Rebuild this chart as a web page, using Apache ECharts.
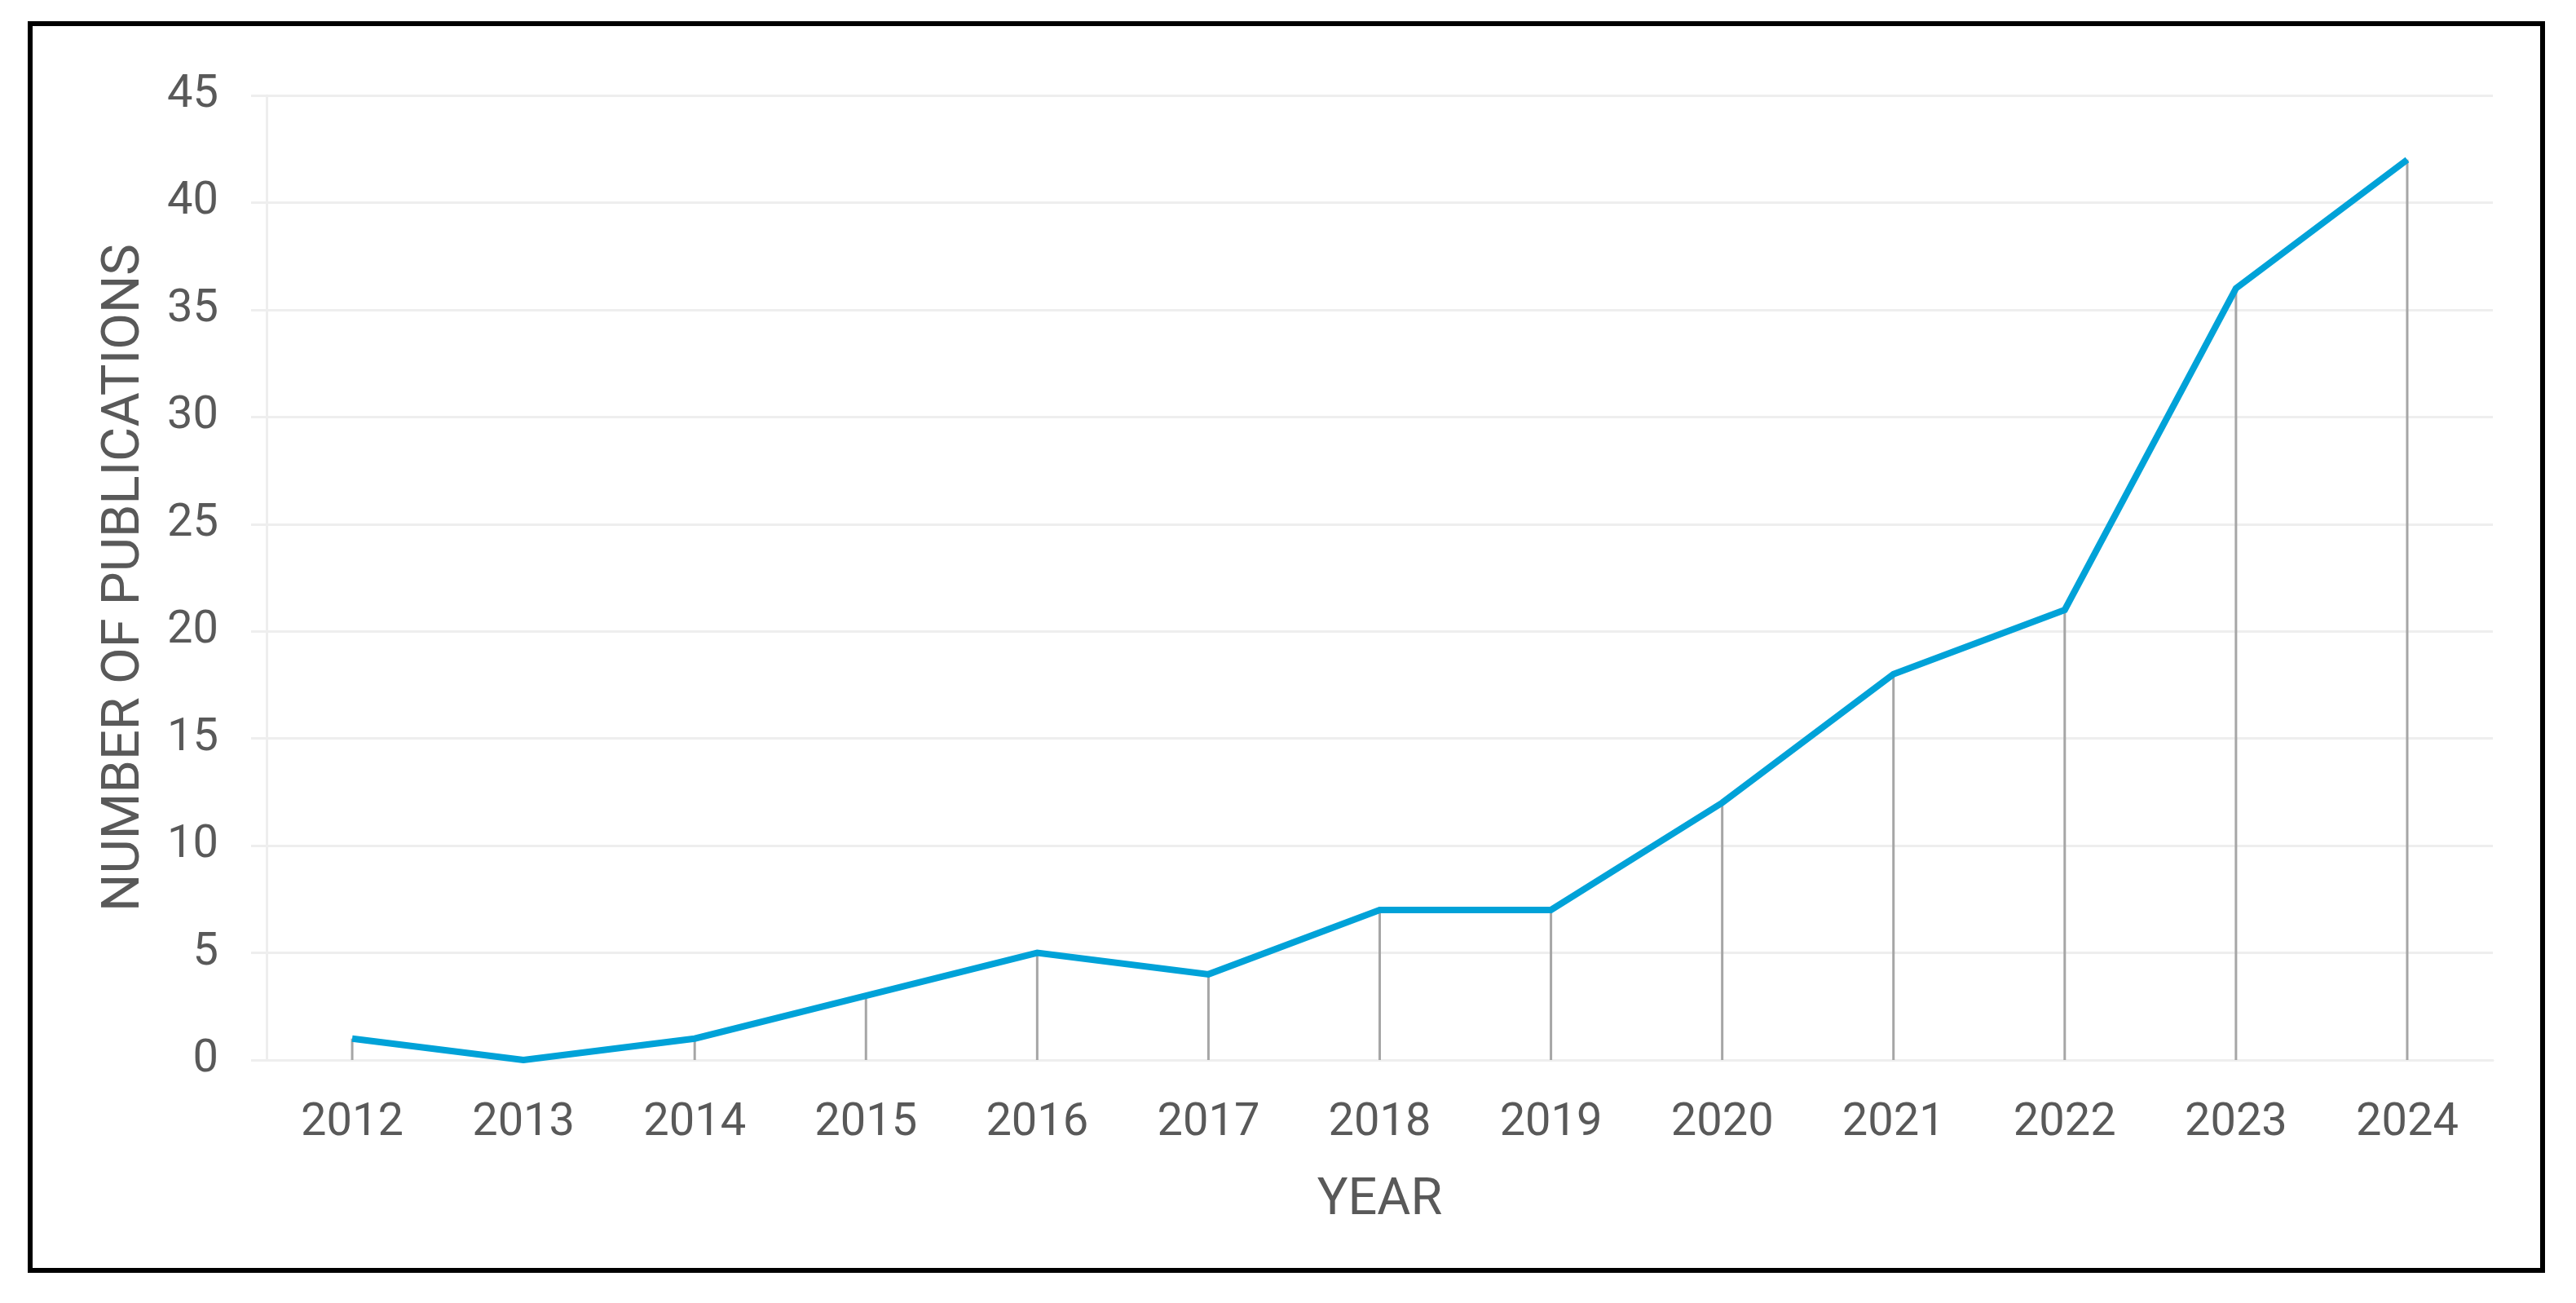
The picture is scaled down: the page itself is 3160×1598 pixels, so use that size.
<!DOCTYPE html>
<html>
<head>
<meta charset="utf-8">
<script src="https://cdn.jsdelivr.net/npm/echarts@6/dist/echarts.min.js"></script>
<style>
html,body{margin:0;padding:0;background:#fff;}
#chart{width:3160px;height:1598px;}
</style>
</head>
<body>
<div id="chart"></div>
<script>
const years = ['2012','2013','2014','2015','2016','2017','2018','2019','2020','2021','2022','2023','2024'];
const publications = [1, 0, 1, 3, 5, 4, 7, 7, 12, 18, 21, 36, 42];
const yTicks = {min: 0, max: 45, interval: 5};
const xAxisTitle = 'YEAR';
const yAxisTitle = 'NUMBER OF PUBLICATIONS';

const chart = echarts.init(document.getElementById('chart'), null, {renderer: 'canvas'});
const textColor = '#595959';
const gridColor = '#eeeeee';
const fontFamily = 'Roboto';

chart.setOption({
  backgroundColor: '#ffffff',
  animation: false,
  graphic: [{
    type: 'rect',
    shape: {x: 37, y: 29, width: 3082, height: 1529},
    style: {fill: 'none', stroke: '#000000', lineWidth: 6},
    z: 100
  }],
  grid: {left: 327, right: 102, top: 117, bottom: 298, containLabel: false},
  xAxis: {
    type: 'category',
    data: years,
    boundaryGap: true,
    name: xAxisTitle,
    nameLocation: 'middle',
    nameGap: 142,
    nameTextStyle: {color: textColor, fontSize: 63, fontFamily: fontFamily},
    axisLine: {show: true, lineStyle: {color: gridColor, width: 3}},
    axisTick: {show: false},
    axisLabel: {color: textColor, fontSize: 56, fontFamily: fontFamily, margin: 50},
    splitLine: {show: false}
  },
  yAxis: {
    type: 'value',
    min: yTicks.min,
    max: yTicks.max,
    interval: yTicks.interval,
    name: yAxisTitle,
    nameLocation: 'middle',
    nameGap: 141,
    nameTextStyle: {color: textColor, fontSize: 65, fontFamily: fontFamily},
    axisLine: {show: true, lineStyle: {color: gridColor, width: 3}},
    axisTick: {show: true, length: 19, lineStyle: {color: gridColor, width: 3}},
    axisLabel: {color: textColor, fontSize: 56, fontFamily: fontFamily, margin: 59},
    splitLine: {show: true, lineStyle: {color: gridColor, width: 3}}
  },
  series: [
    {
      type: 'bar',
      data: publications,
      barWidth: 3,
      itemStyle: {color: '#a6a6a6'},
      z: 2,
      silent: true
    },
    {
      type: 'line',
      data: publications,
      symbol: 'none',
      lineStyle: {color: '#00a2d8', width: 8, join: 'miter'},
      itemStyle: {color: '#00a2d8'},
      z: 3
    }
  ]
});
</script>
</body>
</html>
